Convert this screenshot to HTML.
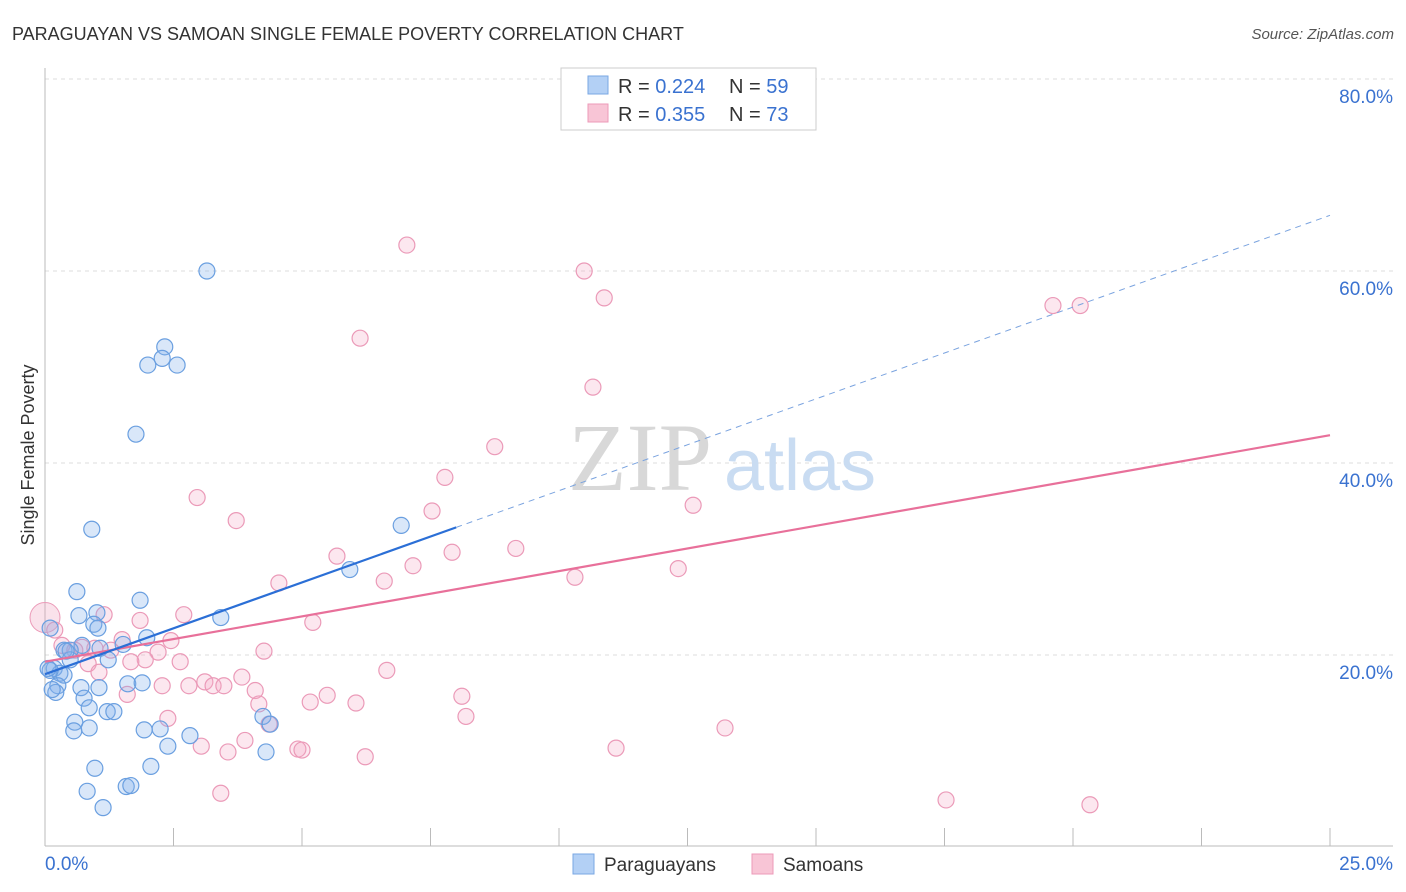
<!DOCTYPE html>
<html><head><meta charset="utf-8"><style>
body{margin:0;background:#fff;font-family:"Liberation Sans",sans-serif}
svg{display:block}
</style></head><body>
<svg width="1406" height="892" viewBox="0 0 1406 892" xmlns="http://www.w3.org/2000/svg">
<text x="12" y="40" font-size="18" fill="#333">PARAGUAYAN VS SAMOAN SINGLE FEMALE POVERTY CORRELATION CHART</text>
<text x="1394" y="39" font-size="15" fill="#555" font-style="italic" text-anchor="end">Source: ZipAtlas.com</text>
<g id="grid"></g>
<g>
<text x="640" y="490" font-size="96" fill="#d8d8d8" font-family="Liberation Serif,serif" text-anchor="middle">ZIP</text>
<text x="800" y="490" font-size="72" fill="#c9dcf2" text-anchor="middle">atlas</text>
</g>
<g id="axes"></g>
<g id="points"></g>
<g id="lines"></g>
<text transform="translate(34,455) rotate(-90)" font-size="18" fill="#333" text-anchor="middle">Single Female Poverty</text>
<g>
<rect x="561" y="68" width="255" height="62" fill="#fff" stroke="#ccc"/>
<rect x="588" y="76" width="20" height="18" fill="#b3d0f5" stroke="#7aa7e3"/>
<rect x="588" y="104" width="20" height="18" fill="#f8c5d6" stroke="#ec9ab8"/>
<text x="618" y="93" font-size="20" fill="#333">R = <tspan fill="#3a72d0">0.224</tspan></text>
<text x="729" y="93" font-size="20" fill="#333">N = <tspan fill="#3a72d0">59</tspan></text>
<text x="618" y="121" font-size="20" fill="#333">R = <tspan fill="#3a72d0">0.355</tspan></text>
<text x="729" y="121" font-size="20" fill="#333">N = <tspan fill="#3a72d0">73</tspan></text>
</g>
<g>
<rect x="573" y="854" width="21" height="20" fill="#b3d0f5" stroke="#7aa7e3"/>
<text x="604" y="871" font-size="19" fill="#333">Paraguayans</text>
<rect x="752" y="854" width="21" height="20" fill="#f8c5d6" stroke="#ec9ab8"/>
<text x="783" y="871" font-size="19" fill="#333">Samoans</text>
</g>
</svg>
<script>
const yTicks=[20,40,60,80];
const xTickLabels=["0.0%","25.0%"];
const blueX=[3.15,2.33,2.00,2.57,2.28,1.77,0.91,6.93,5.93,0.62,1.85,1.01,0.66,3.42,0.95,1.03,0.10,1.98,1.52,0.72,0.37,0.49,1.07,1.23,0.49,0.18,0.29,0.37,0.10,0.70,1.05,0.25,0.21,1.61,1.89,0.76,0.86,1.21,1.34,4.24,0.58,4.38,0.56,0.86,1.93,2.24,2.82,2.39,4.30,0.97,2.06,0.82,1.58,1.67,1.13,0.06,0.14,0.41];
const blueY=[60.0,52.1,50.2,50.2,50.9,43.0,33.1,33.5,28.9,26.6,25.7,24.4,24.1,23.9,23.2,22.8,22.8,21.8,21.1,21.0,20.5,20.5,20.7,19.5,19.5,18.6,18.1,17.9,18.4,16.6,16.6,16.8,16.1,17.0,17.1,15.5,14.5,14.1,14.1,13.6,13.0,12.8,12.1,12.4,12.2,12.3,11.6,10.5,9.9,8.2,8.4,5.8,6.3,6.4,4.1,18.6,16.4,20.4];
const pinkX=[7.04,10.49,10.88,19.61,20.14,6.13,10.66,8.75,7.78,2.96,3.72,7.53,12.61,9.16,5.68,7.92,7.16,12.32,10.31,6.60,4.55,1.15,2.70,1.85,5.21,1.50,2.45,0.72,0.97,0.33,1.28,2.20,4.26,1.95,1.67,2.63,0.84,1.05,3.83,6.65,3.11,2.80,2.28,3.27,3.48,4.09,1.60,5.49,8.11,5.16,4.16,6.05,2.39,8.19,4.36,13.23,3.89,3.04,4.92,5.00,3.56,11.11,6.23,3.42,17.53,20.33,0.19,0.58];
const pinkY=[62.7,60.0,57.2,56.4,56.4,53.0,47.9,41.7,38.5,36.4,34.0,35.0,35.6,31.1,30.3,30.7,29.3,29.0,28.1,27.7,27.5,24.2,24.2,23.6,23.4,21.6,21.5,20.8,20.7,21.0,20.5,20.3,20.4,19.5,19.3,19.3,19.1,18.2,17.7,18.4,17.2,16.8,16.8,16.8,16.8,16.3,15.9,15.8,15.7,15.1,14.9,15.0,13.4,13.6,12.8,12.4,11.1,10.5,10.2,10.1,9.9,10.3,9.4,5.6,4.9,4.4,22.6,20.5];
const bigPink=[0.0,23.9];
const blueFit=[18.0,65.8];
const pinkFit=[19.3,42.9];
const blueSolidEnd=8.0;
const NS="http://www.w3.org/2000/svg";
const X=v=>45+v/25*1285, Y=v=>847-v*9.6;
function mk(t,a,p){const e=document.createElementNS(NS,t);for(const k in a)e.setAttribute(k,a[k]);p.appendChild(e);return e;}
const grid=document.getElementById('grid'),axes=document.getElementById('axes'),pts=document.getElementById('points'),lines=document.getElementById('lines');
yTicks.forEach(t=>{
 const l=mk('line',{x1:45,x2:1393,y1:Y(t),y2:Y(t),stroke:'#ddd','stroke-dasharray':'4,4'},grid);
 
 
 const tx=mk('text',{x:1393,y:Y(t)+24,'font-size':19,fill:'#3a72d0','text-anchor':'end'},axes);
 tx.textContent=t.toFixed(1)+'%';
 
 
});
mk('line',{x1:45,x2:45,y1:68,y2:846,stroke:'#bbb'},axes);
mk('line',{x1:45,x2:1393,y1:846,y2:846,stroke:'#bbb'},axes);
for(let i=0;i<=10;i++){const t=mk('line',{x1:X(i*2.5),x2:X(i*2.5),y1:828,y2:846,stroke:'#bbb'},axes);
 
 }
const xl0=mk('text',{x:45,y:870,'font-size':19,fill:'#3a72d0'},axes);xl0.textContent=xTickLabels[0];


const xl1=mk('text',{x:1393,y:870,'font-size':19,fill:'#3a72d0','text-anchor':'end'},axes);xl1.textContent=xTickLabels[1];


const bp=mk('circle',{cx:X(bigPink[0]),cy:Y(bigPink[1]),r:15,fill:'rgba(240,160,190,0.3)',stroke:'#eb9ab8'},pts);


pinkX.forEach((v,i)=>{const c=mk('circle',{cx:X(v),cy:Y(pinkY[i]),r:8,fill:'rgba(245,170,198,0.28)',stroke:'#eb9ab8','stroke-width':1.2},pts);
 
 });
blueX.forEach((v,i)=>{const c=mk('circle',{cx:X(v),cy:Y(blueY[i]),r:8,fill:'rgba(130,175,235,0.3)',stroke:'#6a9fe0','stroke-width':1.2},pts);
 
 });
const bAt=v=>blueFit[0]+(blueFit[1]-blueFit[0])*v/25;
const pl=mk('line',{x1:X(0),y1:Y(pinkFit[0]),x2:X(25),y2:Y(pinkFit[1]),stroke:'#e8709a','stroke-width':2.2},lines);


const bl=mk('line',{x1:X(0),y1:Y(bAt(0)),x2:X(blueSolidEnd),y2:Y(bAt(blueSolidEnd)),stroke:'#2b6fd6','stroke-width':2.2},lines);


const bd=mk('line',{x1:X(blueSolidEnd),y1:Y(bAt(blueSolidEnd)),x2:X(25),y2:Y(bAt(25)),stroke:'#7aa3df','stroke-width':1,'stroke-dasharray':'6,5'},lines);


</script>
</body></html>
